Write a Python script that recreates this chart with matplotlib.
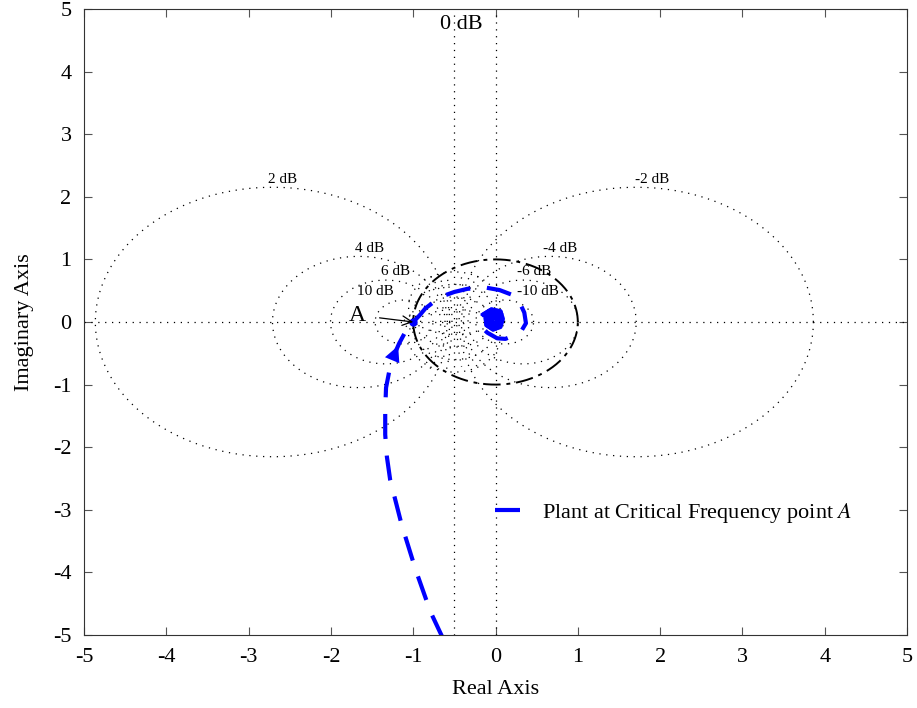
import numpy as np
import matplotlib
matplotlib.use('Agg')
import matplotlib.pyplot as plt

plt.rcParams['font.family'] = ['Liberation Serif', 'DejaVu Serif']
plt.rcParams['mathtext.fontset'] = 'stix'
plt.rcParams['axes.unicode_minus'] = False

# M-circle levels (dB) and where their labels sit
db_levels = [2, -2, 4, -4, 6, -6, 10, -10, 20, -20]
db_labels = ['2 dB', '-2 dB', '4 dB', '-4 dB', '6 dB', '-6 dB', '10 dB', '-10 dB']
label_x = [-2.59, 1.90, -1.53, 0.79, -1.22, 0.47, -1.46, 0.51]
label_y = [2.27, 2.27, 1.18, 1.18, 0.80, 0.80, 0.48, 0.48]

# Nyquist curve
nyq_re = [-0.64, -0.79, -0.97, -1.14, -1.28, -1.32, -1.34, -1.34, -1.33, -1.29, -1.23,
          -1.17, -1.08, -1.0, -0.92, -0.85, -0.75, -0.67, -0.5, -0.34, -0.12, 0.05, 0.21,
          0.29, 0.35, 0.37, 0.32, 0.25, 0.12, 0.02, -0.1, -0.17, -0.19, -0.15, -0.05, 0.06,
          0.09, 0.06, -0.03, -0.11, -0.12, -0.05, 0.04, 0.07, 0.03, -0.05, -0.09, -0.05,
          0.03, 0.05, 0.0, -0.05, -0.03, 0.02, 0.01]
nyq_im = [-5.05, -4.63, -3.96, -3.24, -2.52, -2.15, -1.8, -1.4, -1.05, -0.78, -0.52,
          -0.34, -0.12, 0.0, 0.11, 0.22, 0.32, 0.40, 0.48, 0.53, 0.55, 0.51, 0.43, 0.32,
          0.15, -0.02, -0.13, -0.2, -0.27, -0.26, -0.17, -0.08, 0.02, 0.12, 0.2, 0.17,
          0.05, -0.08, -0.12, -0.05, 0.07, 0.16, 0.14, 0.04, -0.07, -0.08, 0.02, 0.11,
          0.1, 0.01, -0.05, 0.0, 0.07, 0.05, 0.0]

point_a = (-1.0, 0.0)
lens_heights = [0.2, 0.4, 0.6, 0.8]
mesh_db = [1, 3, -1, -3]

fig = plt.figure(figsize=(9.17, 7.08), dpi=100)
ax = fig.add_axes([0.0916, 0.1031, 0.8975, 0.8842])

dot = dict(color='black', lw=0.9, linestyle=(0, (1, 4.5)))
t = np.linspace(0, 2 * np.pi, 400)

for d in db_levels:
    m = 10 ** (d / 20.0)
    c = -m ** 2 / (m ** 2 - 1)
    r = abs(m / (m ** 2 - 1))
    ax.plot(c + r * np.cos(t), r * np.sin(t), **dot)

# 0 dB line and axes lines
ax.axvline(-0.5, **dot)
ax.axvline(0, **dot)
ax.axhline(0, **dot)

# sparse mesh between -1 and 0 (phase arcs + small gain arcs)
for h in lens_heights:
    y0 = (h ** 2 - 0.25) / (2 * h)
    r = h - y0
    a0 = np.arctan2(-y0, -0.5)
    a1 = np.arctan2(-y0, 0.5)
    ang = np.linspace(a1, a0 + (2 * np.pi if a0 < a1 else 0), 100)
    xs = -0.5 + r * np.cos(ang)
    ys = y0 + r * np.sin(ang)
    ax.plot(xs, ys, **dot)
    ax.plot(xs, -ys, **dot)
for d in mesh_db:
    m = 10 ** (d / 20.0)
    c = -m ** 2 / (m ** 2 - 1)
    r = abs(m / (m ** 2 - 1))
    xs = c + r * np.cos(t)
    ys = r * np.sin(t)
    keep = (xs > -1.0) & (xs < 0.0) & (np.abs(ys) < 0.75)
    xs = np.where(keep, xs, np.nan)
    ax.plot(xs, ys, **dot)

for lab, lx, ly in zip(db_labels, label_x, label_y):
    ax.text(lx, ly, lab, fontsize=11, ha='center', va='center')
ax.text(-0.41, 4.76, '0 dB', fontsize=16, ha='center', va='center')

# unit circle
ax.plot(np.cos(t), np.sin(t), color='black', lw=1.4, linestyle=(0, (9, 3, 2, 3)))

# Nyquist curve
ax.plot(nyq_re, nyq_im, color='blue', lw=3, linestyle=(0, (6, 4)),
        label='Plant at Critical Frequency point $A$')
ax.plot(nyq_re[-22:], nyq_im[-22:], color='blue', lw=3)
ax.annotate('', xy=(-1.17, -0.34), xytext=(-1.3, -0.75),
            arrowprops=dict(arrowstyle='-|>', color='blue', lw=0, mutation_scale=28))
ax.plot(*point_a, 'o', color='blue', ms=5)
ax.annotate('A', xy=(-1.0, 0.0), xytext=(-1.68, 0.11), fontsize=17,
            ha='center', va='center',
            arrowprops=dict(arrowstyle='->', color='black', lw=0.9, shrinkA=8, shrinkB=0))

ax.set_xlim(-5, 5)
ax.set_ylim(-5, 5)
ax.set_xticks(range(-5, 6))
ax.set_yticks(range(-5, 6))
ax.tick_params(direction='in', labelsize=16, top=True, right=True, color='#555555', length=6)
ax.tick_params(axis='x', pad=9)
ax.tick_params(axis='y', pad=9)
for s in ax.spines.values():
    s.set_color('#333333')
ax.set_xlabel('Real Axis', fontsize=16, labelpad=10)
ax.set_ylabel('Imaginary Axis', fontsize=16, labelpad=14)

ax.legend(loc='center left', bbox_to_anchor=(0.475, 0.195), frameon=False, fontsize=16,
          handlelength=1.8, handletextpad=0.3)

fig.savefig('out.png', dpi=100)
